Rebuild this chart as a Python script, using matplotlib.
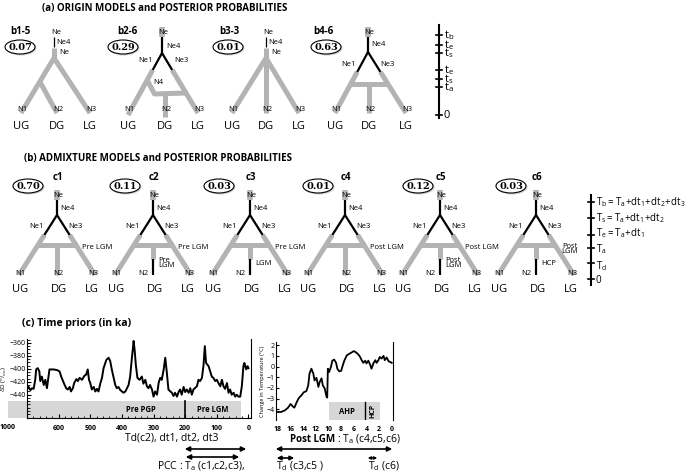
import matplotlib
matplotlib.use("Agg")
import matplotlib.pyplot as plt
from matplotlib.patches import Ellipse, Rectangle

plt.rcParams['font.family'] = ['Open Sans', 'DejaVu Sans']
plt.rcParams['mathtext.fontset'] = 'custom'
plt.rcParams['mathtext.rm'] = 'Open Sans'
plt.rcParams['mathtext.it'] = 'Open Sans'
plt.rcParams['mathtext.bf'] = 'Open Sans:bold'

GREY = '#b3b3b3'
BOX = '#d6d6d6'

# ---- data ----
origin_models = ['b1-5', 'b2-6', 'b3-3', 'b4-6']
origin_probs = [0.07, 0.29, 0.01, 0.63]
admix_models = ['c1', 'c2', 'c3', 'c4', 'c5', 'c6']
admix_probs = [0.70, 0.11, 0.03, 0.01, 0.12, 0.03]
admix_period = ['Pre LGM', 'Pre LGM', 'Pre LGM', 'Post LGM', 'Post LGM', 'Post\nLGM']
admix_n2_label = ['', 'Pre\nLGM', 'LGM', '', 'Post\nLGM', 'HCP']
admix_n2_recent = [False, True, True, False, True, True]
pops = ['UG', 'DG', 'LG']
origin_times = ['$\\mathrm{t_b}$', '$\\mathrm{t_e}$', '$\\mathrm{t_s}$', '$\\mathrm{t_e}$',
                '$\\mathrm{t_s}$', '$\\mathrm{t_a}$', '0']
admix_times = ['$\\mathrm{T_b =T_a\\!+\\!dt_1\\!+\\!dt_2\\!+\\!dt_3}$',
               '$\\mathrm{T_s =T_a\\!+\\!dt_1\\!+\\!dt_2}$',
               '$\\mathrm{T_e =T_a\\!+\\!dt_1}$', '$\\mathrm{T_a}$', '$\\mathrm{T_d}$', '0']

# deuterium record (ka, dD permil)
dd_ka = [700, 695, 689, 684, 679, 674, 671, 666, 661, 658, 653, 647, 642, 637, 634, 629, 624, 616,
         605, 597, 592, 586, 581, 576, 571, 565, 561, 555, 551, 544, 539, 534, 526, 519, 513, 508,
         504, 500, 495, 489, 484, 479, 474, 468, 463, 458, 449, 442, 437, 432, 426, 421, 416, 411,
         405, 400, 395, 389, 384, 379, 374, 368, 363, 360, 356, 351, 344, 337, 332, 326, 321, 316,
         311, 305, 300, 295, 289, 284, 279, 274, 268, 263, 258, 253, 247, 242, 237, 232, 226, 221,
         216, 211, 205, 200, 195, 189, 184, 179, 174, 163, 158, 153, 147, 142, 138, 134, 126, 121,
         116, 111, 105, 100, 95, 89, 84, 79, 74, 68, 63, 58, 53, 47, 42, 37, 32, 26, 21, 16, 13, 7, 3, 0]
dd_val = [-432, -428, -433, -430, -431, -417, -401, -399, -404, -419, -412, -425, -417, -430, -419,
          -401, -401, -401, -402, -404, -412, -419, -425, -430, -432, -428, -435, -430, -422, -416,
          -419, -414, -417, -411, -409, -401, -417, -422, -432, -428, -435, -431, -435, -422, -414,
          -399, -386, -383, -388, -401, -414, -425, -430, -428, -433, -435, -437, -435, -430, -425,
          -412, -381, -357, -370, -394, -414, -417, -412, -423, -417, -427, -430, -425, -432, -443,
          -435, -440, -422, -414, -417, -401, -383, -406, -432, -435, -437, -442, -437, -443, -436,
          -432, -440, -428, -436, -432, -437, -430, -440, -432, -427, -417, -419, -414, -394, -365,
          -391, -396, -404, -412, -414, -419, -417, -422, -427, -417, -427, -431, -422, -437, -432,
          -440, -437, -443, -440, -443, -443, -427, -396, -391, -401, -396, -399]

# temperature change (ka, degC)
temp_ka = [18.2, 17.5, 16.9, 16.4, 16.0, 15.7, 15.4, 15.0, 14.7, 14.3, 13.9, 13.5, 13.2, 13.0, 12.7,
           12.4, 12.2, 11.9, 11.6, 11.4, 11.1, 10.9, 10.6, 10.3, 10.2, 10.1, 9.9, 9.6, 9.4, 9.1, 8.8,
           8.6, 8.3, 8.0, 7.8, 7.5, 7.1, 6.7, 6.4, 6.0, 5.7, 5.3, 5.0, 4.8, 4.5, 4.2, 4.0, 3.7, 3.4,
           3.2, 2.9, 2.6, 2.4, 2.1, 1.9, 1.6, 1.3, 1.1, 0.8, 0.5, 0.3, 0.0]
temp_val = [-4.25, -4.25, -4.1, -3.85, -3.5, -3.7, -3.85, -3.3, -2.95, -2.7, -2.4, -2.3, -1.75, -0.65,
            -0.2, -0.65, -1.3, -1.05, -1.9, -1.45, -1.1, -1.75, -2.05, -2.85, -2.9, -0.2, -0.5, 0.0,
            0.55, 0.65, 0.35, -0.2, -0.45, -0.4, 0.0, 0.55, 1.05, 1.2, 1.3, 1.45, 1.35, 1.15, 0.9,
            0.65, 0.35, 0.55, 0.3, 0.55, 0.15, -0.2, 0.3, 0.6, 0.35, 0.6, 0.9, 0.75, 1.0, 0.6, 0.85,
            0.5, 0.45, 0.35]

# ---- layout (pixels) ----
W, H = 685, 473
fig = plt.figure(figsize=(W / 100, H / 100), dpi=100)
ax = fig.add_axes([0, 0, 1, 1])
ax.set_xlim(0, W)
ax.set_ylim(H, 0)
ax.axis('off')


def seg(x1, y1, x2, y2, c=GREY, lw=3.6, z=1):
    ax.plot([x1, x2], [y1, y2], color=c, lw=lw, solid_capstyle='butt', zorder=z)


def at(x, y, s, size=5.5, ha='center', **kw):
    ax.text(x, y, s, fontsize=size, ha=ha, va='center', zorder=5, **kw)


def prob_ellipse(x, y, p):
    ax.add_patch(Ellipse((x + 1, y + 1), 31, 15, fc='#cfcfcf', ec='none', zorder=3))
    ax.add_patch(Ellipse((x, y), 30, 14, fc='white', ec='black', lw=0.8, zorder=4))
    ax.text(x, y, f'{p:.2f}', fontsize=7, ha='center', va='center', weight='bold',
            family='DejaVu Serif', zorder=5)


at(165, 9, '(a) ORIGIN MODELS and POSTERIOR PROBABILITIES', size=7, weight='bold')

# ---- (a) origin trees ----
a_x0 = [54, 162, 266, 368]
a_lab_x = [20, 127, 229, 323]
a_ell_x = [20, 123, 228, 326]
for i, (m, p) in enumerate(zip(origin_models, origin_probs)):
    x0 = a_x0[i]
    at(a_lab_x[i], 31, m, size=7, weight='bold')
    prob_ellipse(a_ell_x[i], 47, p)
    if m in ('b1-5', 'b3-3'):
        seg(x0, 37, x0, 47, c='black', lw=0.9)
        seg(x0, 48, x0, 58)
        at(x0 + 2, 32, 'Ne')
        at(x0 + 2, 42, 'Ne4', ha='left')
        at(x0 + 5, 52, 'Ne', ha='left')
        if m == 'b1-5':
            ends = [(x0 - 33, 113), (x0 + 3, 113), (x0 + 36, 113)]
            seg(x0, 58, *ends[0])
            seg(x0, 58, *ends[2])
            seg(x0 - 14, 82, *ends[1])
        else:
            ends = [(x0 - 34, 113), (x0, 113), (x0 + 33, 113)]
            for e in ends:
                seg(x0, 58, *e)
    else:
        seg(x0, 27, x0, 37, lw=4)
        at(x0 + 1, 32, 'Ne')
        seg(x0, 37, x0, 53, c='black', lw=1.6, z=2)
        if m == 'b2-6':
            ends = [(x0 - 34, 115), (x0 + 3, 117), (x0 + 36, 113)]
            sl, sr = 34 / 62, 36 / 60
            seg(x0, 53, x0 - 17 * sl, 70, c='black', lw=1.6, z=2)
            seg(x0, 53, x0 + 17 * sr, 70, c='black', lw=1.6, z=2)
            seg(x0 - 17 * sl, 70, *ends[0])
            seg(x0 + 17 * sr, 70, *ends[2])
            seg(x0 - 27 * sl, 80, x0 - 7, 95)
            seg(x0 - 8, 94, x0 + 40 * sr, 93)
            seg(x0 + 3, 94, *ends[1])
            at(x0 + 11, 46, 'Ne4')
            at(x0 - 16, 61, 'Ne1')
            at(x0 + 19, 61, 'Ne3')
            at(x0 - 4, 83, 'N4')
        else:
            ends = [(x0 - 33, 113), (x0 + 1, 113), (x0 + 38, 113)]
            sl, sr = 33 / 61, 38 / 61
            seg(x0, 52, x0 - 20 * sl, 72, c='black', lw=1.6, z=2)
            seg(x0, 52, x0 + 20 * sr, 72, c='black', lw=1.6, z=2)
            seg(x0 - 20 * sl, 72, *ends[0])
            seg(x0 + 20 * sr, 72, *ends[2])
            seg(x0 - 32 * sl, 84, x0 + 32 * sr, 84)
            seg(x0 + 1, 84, *ends[1])
            at(x0 + 10, 45, 'Ne4')
            at(x0 - 19, 64, 'Ne1')
            at(x0 + 19, 64, 'Ne3')
    for k, (ex, ey) in enumerate(ends):
        at(ex + 1, 109, f'N{k + 1}')
        at(ex, 126, pops[k], size=8)

# origin time axis
ta_y = [35, 45, 53, 70, 79, 87, 115]
ax.plot([439, 439], [25, 118], color='black', lw=1.5)
for y, s in zip(ta_y, origin_times):
    ax.plot([436, 442], [y, y], color='black', lw=1.2)
    at(444, y, s, size=8, ha='left')

# ---- (b) admixture trees ----
at(158, 158, '(b) ADMIXTURE MODELS and POSTERIOR PROBABILITIES', size=7, weight='bold')
b_x0 = [57, 153, 250, 345, 440, 536]
b_ell_dx = [-29, -28, -31, -27, -22, -25]
sl = 38 / 60
for i, m in enumerate(admix_models):
    x0 = b_x0[i]
    at(x0 + 1, 177, m, size=7, weight='bold')
    prob_ellipse(x0 + b_ell_dx[i], 186, admix_probs[i])
    seg(x0, 190, x0, 200, lw=4)
    seg(x0, 200, x0, 215, c='black', lw=1.6, z=2)
    seg(x0, 215, x0 - 20 * sl, 235, c='black', lw=1.6, z=2)
    seg(x0, 215, x0 + 20 * sl, 235, c='black', lw=1.6, z=2)
    seg(x0 - 20 * sl, 235, x0 - 38, 275)
    seg(x0 + 20 * sl, 235, x0 + 38, 275)
    seg(x0 - 30 * sl, 245, x0 + 30 * sl, 245)
    if admix_n2_recent[i]:
        seg(x0, 245, x0, 259)
        seg(x0, 259, x0, 275, c='black', lw=1.6, z=2)
        at(x0 - 10, 273, 'N2')
    else:
        seg(x0, 245, x0, 275)
        at(x0 + 1, 273, 'N2')
    at(x0 + 1, 195, 'Ne')
    at(x0 + 3, 208, 'Ne4', ha='left')
    at(x0 - 20, 226, 'Ne1')
    at(x0 + 18, 226, 'Ne3')
    at(x0 - 37, 273, 'N1')
    at(x0 + 36, 273, 'N3')
    for k, dx in enumerate([-37, 2, 35]):
        at(x0 + dx, 289, pops[k], size=8)
    if '\n' in admix_period[i]:
        at(x0 + 34, 249, admix_period[i], linespacing=0.75)
    else:
        at(x0 + 25, 247, admix_period[i], ha='left')
    if admix_n2_label[i]:
        at(x0 + 5, 263, admix_n2_label[i], ha='left', linespacing=0.75)

tb_y = [202, 218, 235, 248, 263, 279]
tb_ly = [202, 218, 233, 249, 266, 280]
ax.plot([591, 591], [195, 285], color='black', lw=1.5)
for y, ly, s in zip(tb_y, tb_ly, admix_times):
    ax.plot([588, 594], [y, y], color='black', lw=1.2)
    at(596, ly, s, size=7, ha='left')

# ---- (c) time priors ----
at(22, 323, '(c) Time priors (in ka)', size=7.5, ha='left', weight='bold')

ax1 = fig.add_axes([27 / W, 1 - 418 / H, 224 / W, 79 / H])
ax1.plot(dd_ka, dd_val, color='black', lw=1.4, zorder=3)
ax1.set_xlim(700, -8)
ax1.set_ylim(-476, -354)
ax1.add_patch(Rectangle((25, -476), 735, 26, fc=BOX, ec='none', clip_on=False, zorder=1))
ax1.plot([200, 200], [-476, -450], color='black', lw=1.2, zorder=2)
ax1.text(340, -463, 'Pre PGP', fontsize=5.5, weight='bold', ha='center', va='center')
ax1.text(112, -463, 'Pre LGM', fontsize=5.5, weight='bold', ha='center', va='center')
ax1.spines['top'].set_visible(False)
ax1.set_yticks([-360, -380, -400, -420, -440])
ax1.set_yticks(range(-470, -354, 5), minor=True)
ax1.set_xticks([600, 500, 400, 300, 200, 100, 0])
ax1.set_xticks(range(680, -1, -20), minor=True)
ax1.tick_params(direction='in', labelsize=5, length=3, width=0.8, pad=1)
ax1.tick_params(which='minor', direction='in', length=1.8, width=0.6)
ax1.tick_params(axis='x', labelsize=5, pad=5)
for t in ax1.get_xticklabels():
    t.set_fontweight('bold')
ax1.text(760, -485, '1000', fontsize=5, weight='bold', ha='center', va='top', clip_on=False)
ax1.set_ylabel(r'$\delta$D ($^{o}/_{oo}$)', fontsize=4.5, labelpad=0.5)

ax2 = fig.add_axes([276 / W, 1 - 420 / H, 117 / W, 78 / H])
ax2.plot(temp_ka, temp_val, color='black', lw=1.3, zorder=3)
ax2.set_xlim(18.3, -0.2)
ax2.set_ylim(-5, 2.3)
ax2.add_patch(Rectangle((4.2, -5), 5.7, 1.7, fc=BOX, ec='none', zorder=1))
ax2.add_patch(Rectangle((1.85, -5), 2.35, 1.7, fc=BOX, ec='none', zorder=1))
ax2.plot([4.2, 4.2], [-5, -3.3], color='black', lw=1.0, zorder=2)
ax2.text(7.1, -4.2, 'AHP', fontsize=5.5, weight='bold', ha='center', va='center')
ax2.text(3.0, -4.15, 'HCP', fontsize=5, weight='bold', ha='center', va='center', rotation=90)
ax2.spines['top'].set_visible(False)
ax2.spines['bottom'].set_visible(False)
ax2.set_xticks(range(18, -1, -2))
ax2.set_yticks(range(2, -5, -1))
ax2.tick_params(direction='in', labelsize=5, length=2, width=0.8, pad=1)
ax2.tick_params(axis='x', length=0, pad=4)
for t in ax2.get_xticklabels():
    t.set_fontweight('bold')
ax2.set_ylabel('Change in Temperature (°C)', fontsize=4, labelpad=1)

# annotations under the charts
at(172, 438, 'Td(c2), dt1, dt2, dt3', size=7.5)
ax.annotate('', xy=(249, 449), xytext=(182, 449),
            arrowprops=dict(arrowstyle='<|-|>', lw=1.2, color='black', mutation_scale=7))
ax.annotate('', xy=(242, 457), xytext=(183, 457),
            arrowprops=dict(arrowstyle='<|-|>', lw=1.2, color='black', mutation_scale=7))
at(201, 466, 'PCC : $\\mathrm{T_a}$ (c1,c2,c3),', size=7.5)

at(335, 439, 'Post LGM', size=7, ha='right', weight='bold')
at(337, 439, ': $\\mathrm{T_a}$ (c4,c5,c6)', size=7.5, ha='left')
ax.annotate('', xy=(395, 449), xytext=(273, 449),
            arrowprops=dict(arrowstyle='<|-|>', lw=1.2, color='black', mutation_scale=7))
ax.annotate('', xy=(297, 458), xytext=(274, 458),
            arrowprops=dict(arrowstyle='<|-|>', lw=1.2, color='black', mutation_scale=6))
at(276, 466, '$\\mathrm{T_d}$ (c3,c5 )', size=7.5, ha='left')
ax.annotate('', xy=(380, 458), xytext=(365, 458),
            arrowprops=dict(arrowstyle='<|-|>', lw=1.0, color='black', mutation_scale=4))
at(368, 466, '$\\mathrm{T_d}$ (c6)', size=7.5, ha='left')

fig.savefig('out.png', dpi=100)
